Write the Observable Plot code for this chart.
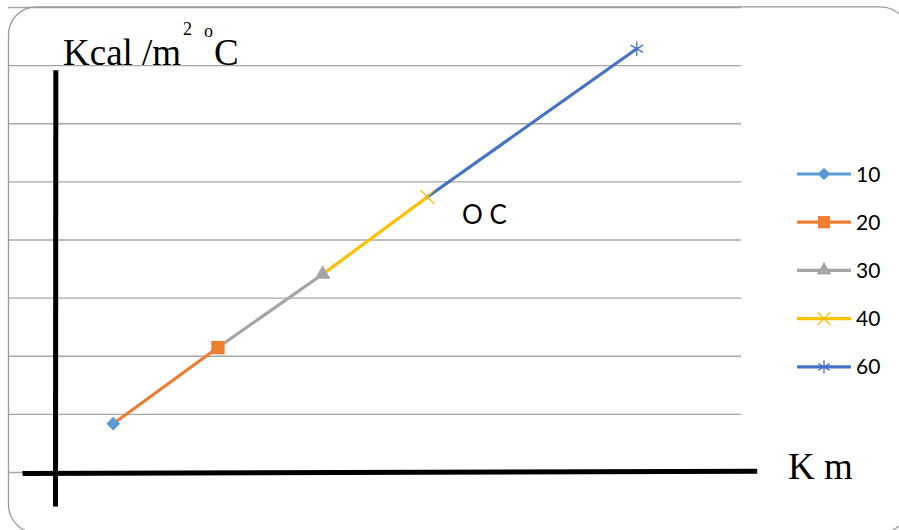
<!DOCTYPE html>
<html><head><meta charset="utf-8">
<script src="https://cdn.jsdelivr.net/npm/d3@7"></script>
<script src="https://cdn.jsdelivr.net/npm/@observablehq/plot@0.6"></script>
<style>body{margin:0;background:#fff}#chart{width:899px;height:530px;overflow:hidden}</style>
</head><body><div id="chart"></div>
<script>
// Data
const seriesNames = ["10", "20", "30", "40", "60"];
const xValues = [1, 2, 3, 4, 6];
const yValues = [0.84, 2.15, 3.41, 4.74, 7.29];
const seriesColors = ["#5b9bd5", "#ed7d31", "#a5a5a5", "#ffc000", "#4472c4"];
const seriesSymbols = ["diamond2", "square", "triangle", "times", "asterisk"];
const markerR = [6.2, 7.5, 5.8, 6.4, 6.8];
const gridValues = [0, 1, 2, 3, 4, 5, 6, 7, 8];
const yTitle = ["Kcal /m", "2", "o", "C"];
const xTitle = "K m";
const noteText = "O C";

const points = seriesNames.map((s, i) => ({s, x: xValues[i], y: yValues[i]}));
const segs = [];
for (let i = 1; i < points.length; i++) {
  segs.push({...points[i - 1], s: seriesNames[i]});
  segs.push({...points[i], s: seriesNames[i]});
}
const filled = new Set(["diamond2", "square", "triangle"]);

const dotMarks = points.map((p, i) => Plot.dot([p], {
  x: "x", y: "y", symbol: () => seriesSymbols[i], r: markerR[i],
  ...(filled.has(seriesSymbols[i]) ? {fill: seriesColors[i], stroke: "none"} : {stroke: seriesColors[i], fill: "none", strokeWidth: 1.3})
}));

const svg = Plot.plot({
  width: 899, height: 530,
  marginLeft: 8, marginRight: 158, marginTop: 7, marginBottom: 58,
  x: {domain: [0, 7], axis: null},
  y: {domain: [0, 8], axis: null},
  symbol: {domain: seriesSymbols, range: seriesSymbols},
  color: {domain: seriesNames, range: seriesColors},
  marks: [
    Plot.ruleY(gridValues, {stroke: "#a6a6a6", strokeWidth: 1.3}),
    Plot.link([{x1: 0.134, y1: -0.017, x2: 7.15, y2: 0.022}], {x1: "x1", y1: "y1", x2: "x2", y2: "y2", stroke: "#000", strokeWidth: 5}),
    Plot.link([{x1: 0.452, y1: 6.92, x2: 0.449, y2: -0.585}], {x1: "x1", y1: "y1", x2: "x2", y2: "y2", stroke: "#000", strokeWidth: 5}),
    Plot.line(segs, {x: "x", y: "y", z: "s", stroke: "s", strokeWidth: 3.2}),
    ...dotMarks
  ]
});
document.getElementById("chart").appendChild(svg);

const root = d3.select(svg);
// rounded frame
root.append("rect").attr("x", 8.5).attr("y", 6.8).attr("width", 900).attr("height", 526)
  .attr("rx", 28).attr("fill", "none").attr("stroke", "#9a9a9a").attr("stroke-width", 1.3);

// axis titles
const serif = "'Liberation Serif', 'Times New Roman', serif";
const sans = "Lato, 'Open Sans', sans-serif";
const t = root.append("text").attr("font-family", serif).attr("fill", "#000").attr("text-anchor", "start");
t.append("tspan").attr("x", 63).attr("y", 65).attr("font-size", 37).text(yTitle[0]);
t.append("tspan").attr("x", 183).attr("y", 35).attr("font-size", 18).text(yTitle[1]);
t.append("tspan").attr("x", 204).attr("y", 37).attr("font-size", 18).text(yTitle[2]);
t.append("tspan").attr("x", 214).attr("y", 65).attr("font-size", 37).text(yTitle[3]);
root.append("text").attr("x", 788).attr("y", 479).attr("font-family", serif).attr("font-size", 37)
  .attr("text-anchor", "start").attr("fill", "#000").text(xTitle);
root.append("text").attr("x", 462).attr("y", 224).attr("font-family", sans)
  .attr("text-anchor", "start").attr("font-size", 26).attr("fill", "#000").text(noteText);

// legend
const symMap = {diamond2: d3.symbolDiamond2, square: d3.symbolSquare, triangle: d3.symbolTriangle, times: d3.symbolTimes, asterisk: d3.symbolAsterisk};
const lg = root.append("g");
seriesNames.forEach((s, i) => {
  const y = 174 + 48.2 * i;
  lg.append("line").attr("x1", 797).attr("x2", 851).attr("y1", y).attr("y2", y)
    .attr("stroke", seriesColors[i]).attr("stroke-width", 3.2);
  const p = lg.append("path").attr("transform", `translate(824,${y})`)
    .attr("d", d3.symbol(symMap[seriesSymbols[i]], Math.PI * markerR[i] * markerR[i] * 0.85)());
  if (filled.has(seriesSymbols[i])) p.attr("fill", seriesColors[i]);
  else p.attr("fill", "none").attr("stroke", seriesColors[i]).attr("stroke-width", 1.3);
  lg.append("text").attr("x", 856).attr("y", y + 7.5).attr("font-family", sans)
    .attr("text-anchor", "start").attr("font-size", 21).attr("fill", "#000").text(s);
});
</script></body></html>
